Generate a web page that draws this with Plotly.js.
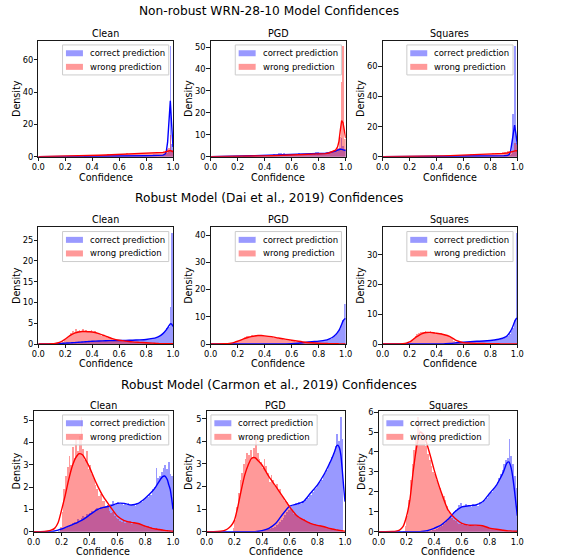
<!DOCTYPE html>
<html><head><meta charset="utf-8">
<script src="https://cdn.plot.ly/plotly-3.0.1.min.js"></script>
<style>html,body{margin:0;padding:0;background:#fff}#chart{width:562px;height:558px}</style>
</head><body><div id="chart"></div>
<script>
// ---------------- DATA ----------------
const rowTitles = ["Non-robust WRN-28-10 Model Confidences", "Robust Model (Dai et al., 2019) Confidences", "Robust Model (Carmon et al., 2019) Confidences"];
const colTitles = ["Clean", "PGD", "Squares"];
const seriesNames = ["correct prediction", "wrong prediction"];
const xAxisLabel = "Confidence";
const yAxisLabel = "Density";
const xTickLabels = ["0.0", "0.2", "0.4", "0.6", "0.8", "1.0"];
const xTickVals = [0, 0.2, 0.4, 0.6, 0.8, 1.0];

// histogram bin centres (bin width 0.0125)
const binCenters = [
 0.10625,0.11875,0.13125,0.14375,0.15625,0.16875,0.18125,0.19375,
 0.20625,0.21875,0.23125,0.24375,0.25625,0.26875,0.28125,0.29375,
 0.30625,0.31875,0.33125,0.34375,0.35625,0.36875,0.38125,0.39375,
 0.40625,0.41875,0.43125,0.44375,0.45625,0.46875,0.48125,0.49375,
 0.50625,0.51875,0.53125,0.54375,0.55625,0.56875,0.58125,0.59375,
 0.60625,0.61875,0.63125,0.64375,0.65625,0.66875,0.68125,0.69375,
 0.70625,0.71875,0.73125,0.74375,0.75625,0.76875,0.78125,0.79375,
 0.80625,0.81875,0.83125,0.84375,0.85625,0.86875,0.88125,0.89375,
 0.90625,0.91875,0.93125,0.94375,0.95625,0.96875,0.98125,0.99375];
const binWidth = 0.0125;

// KDE evaluation grid
const kdeX = [0,0.05,0.1,0.125,0.15,0.175,0.2,0.225,0.25,0.275,0.3,0.325,0.35,0.375,0.4,0.45,0.5,0.55,0.6,0.65,0.7,0.75,0.8,0.85,0.875,0.9,0.925,0.94,0.95,0.96,0.97,0.98,0.99,1.0];

// ---- Non-robust WRN-28-10 ----
const nr_clean_correct = [
 0,0,0.01,0.01,0.02,0.03,0.02,0.03,
 0.04,0.05,0.06,0.05,0.07,0.09,0.08,0.1,
 0.11,0.12,0.1,0.14,0.16,0.15,0.17,0.19,
 0.2,0.22,0.21,0.24,0.25,0.23,0.27,0.3,
 0.28,0.31,0.33,0.3,0.36,0.34,0.37,0.4,
 0.39,0.42,0.4,0.44,0.47,0.43,0.48,0.5,
 0.49,0.53,0.51,0.56,0.55,0.6,0.58,0.62,
 0.66,0.63,0.7,0.74,0.72,0.8,0.86,0.9,
 1.0,1.15,1.3,1.7,2.3,3.6,68.5,8.0];
const nr_clean_wrong = [
 0.02,0.03,0.04,0.05,0.06,0.07,0.08,0.1,
 0.12,0.15,0.2,0.18,0.25,0.3,0.28,0.35,
 0.4,0.35,0.5,0.45,0.6,0.55,0.7,0.65,
 0.8,0.9,0.7,1.1,0.95,1.2,1.0,1.3,
 1.1,1.5,1.2,1.4,1.7,1.3,1.6,1.5,
 1.8,1.4,1.7,1.6,2.0,1.5,1.9,1.8,
 1.7,2.1,1.8,2.3,1.9,2.0,2.4,2.1,
 2.2,2.0,2.5,2.3,2.6,2.2,2.8,2.4,
 2.6,3.0,2.7,3.5,4.5,5.5,13.4,4.0];
const nr_clean_correct_kde = [0,0.01,0.02,0.03,0.04,0.05,0.06,0.07,0.08,0.1,0.12,0.14,0.16,0.18,0.2,0.25,0.3,0.35,0.4,0.45,0.5,0.55,0.62,0.7,0.75,0.8,1.0,1.5,3.0,9.0,22.0,34.6,20.0,6.0];
const nr_clean_wrong_kde = [0.05,0.1,0.15,0.18,0.22,0.26,0.3,0.35,0.4,0.45,0.5,0.56,0.62,0.68,0.75,0.9,1.05,1.2,1.35,1.5,1.65,1.8,2.0,2.2,2.35,2.5,2.7,2.9,3.1,3.4,3.7,3.8,3.5,3.0];

const nr_pgd_correct = [
 0,0,0,0,0.05,0.1,0.15,0.2,
 0.25,0.3,0.2,0.35,0.4,0.3,0.45,0.5,
 0.4,0.6,0.5,0.7,0.55,0.8,0.6,0.75,
 0.8,0.65,0.9,1.0,0.7,1.2,0.85,1.0,
 1.5,1.8,0.9,1.6,1.1,1.3,0.8,1.2,
 1.0,1.4,0.9,1.2,1.5,1.0,1.3,1.1,
 1.2,1.0,1.4,1.1,1.3,1.6,2.2,2.3,
 1.5,1.2,1.8,1.4,1.6,2.0,1.7,2.2,
 2.4,2.6,3.0,3.5,4.0,8.4,5.0,3.5];
const nr_pgd_wrong = [
 0,0,0,0,0,0,0.02,0.03,
 0.05,0.06,0.08,0.1,0.12,0.15,0.18,0.2,
 0.22,0.25,0.3,0.28,0.35,0.3,0.4,0.35,
 0.45,0.4,0.5,0.45,0.55,0.5,0.6,0.55,
 0.6,0.65,0.55,0.7,0.65,0.75,0.6,0.7,
 0.75,0.7,0.8,0.75,0.85,0.8,0.9,0.85,
 0.9,0.85,0.95,0.9,1.0,1.1,1.0,1.2,
 1.1,1.3,1.2,1.4,1.5,1.6,1.8,2.0,
 2.2,2.6,3.0,4.0,9.0,34.0,50.4,8.0];
const nr_pgd_correct_kde = [0,0.02,0.05,0.08,0.12,0.17,0.22,0.27,0.32,0.37,0.42,0.47,0.52,0.57,0.62,0.72,0.82,0.9,0.98,1.05,1.1,1.2,1.35,1.6,1.8,2.1,2.6,3.0,3.3,3.4,3.35,3.2,3.0,2.8];
const nr_pgd_wrong_kde = [0,0.01,0.03,0.05,0.08,0.1,0.12,0.15,0.18,0.2,0.23,0.26,0.3,0.33,0.37,0.45,0.55,0.62,0.7,0.78,0.85,0.95,1.1,1.4,1.7,2.2,3.0,4.5,7.0,12.0,16.5,15.5,12.0,8.5];

const nr_sq_correct = [
 0,0,0,0.01,0.01,0.02,0.02,0.03,
 0.03,0.05,0.04,0.06,0.07,0.06,0.08,0.09,
 0.1,0.09,0.11,0.12,0.11,0.14,0.13,0.15,
 0.16,0.15,0.18,0.17,0.2,0.19,0.22,0.21,
 0.24,0.23,0.25,0.27,0.26,0.29,0.28,0.3,
 0.32,0.31,0.33,0.35,0.34,0.37,0.36,0.38,
 0.4,0.39,0.42,0.41,0.44,0.43,0.46,0.47,
 0.49,0.5,0.53,0.52,0.56,0.58,0.61,0.63,
 0.7,0.8,1.0,1.3,1.8,28.5,73.5,9.0];
const nr_sq_wrong = [
 0,0,0,0,0.01,0.02,0.03,0.04,
 0.05,0.06,0.08,0.1,0.12,0.14,0.16,0.18,
 0.2,0.25,0.22,0.3,0.35,0.3,0.4,0.45,
 0.5,0.55,0.6,0.5,0.7,0.65,0.8,0.75,
 0.9,0.8,1.0,0.95,1.1,1.0,1.2,1.1,
 1.3,1.2,1.4,1.3,1.5,1.4,1.6,1.5,
 1.6,1.5,1.7,1.8,1.6,1.9,1.8,2.0,
 2.0,2.2,2.1,2.4,2.3,2.6,2.5,2.8,
 3.0,3.2,3.6,4.0,3.5,3.0,9.0,7.7];
const nr_sq_correct_kde = [0,0.01,0.02,0.02,0.03,0.04,0.05,0.06,0.07,0.08,0.1,0.11,0.12,0.14,0.15,0.18,0.22,0.25,0.3,0.33,0.37,0.4,0.45,0.5,0.55,0.6,0.8,1.5,3.5,10.0,18.0,21.0,15.0,8.0];
const nr_sq_wrong_kde = [0,0.01,0.02,0.03,0.05,0.07,0.09,0.11,0.13,0.16,0.2,0.25,0.3,0.35,0.42,0.55,0.7,0.85,1.0,1.15,1.3,1.45,1.6,1.85,2.0,2.2,2.5,2.8,3.0,3.3,3.6,4.0,4.0,3.8];

// ---- Robust (Dai et al., 2019) ----
const dai_clean_correct = [
 0.02,0.03,0.05,0.06,0.08,0.1,0.12,0.15,
 0.2,0.22,0.25,0.3,0.32,0.35,0.4,0.42,
 0.45,0.5,0.5,0.55,0.6,0.6,0.62,0.65,
 0.7,0.68,0.72,0.75,0.7,0.78,0.8,0.75,
 0.8,0.78,0.82,0.8,0.85,0.8,0.82,0.85,
 0.85,0.82,0.88,0.85,0.9,0.88,0.92,0.9,
 0.95,0.92,0.98,1.0,0.95,1.05,1.1,1.05,
 1.15,1.2,1.25,1.35,1.4,1.55,1.7,1.9,
 2.1,2.5,2.9,3.3,3.8,4.2,9.0,26.8];
const dai_clean_wrong = [
 0.05,0.08,0.1,0.15,0.2,0.35,0.6,0.9,
 1.3,1.7,2.2,2.6,3.1,2.8,3.6,3.2,
 3.4,3.1,3.5,3.0,3.3,2.9,3.2,3.4,
 2.9,3.1,2.6,2.5,2.4,2.0,2.2,1.8,
 1.6,1.5,1.4,1.2,1.1,1.0,0.95,0.85,
 0.8,0.75,0.7,0.7,0.6,0.55,0.5,0.5,
 0.45,0.4,0.4,0.35,0.32,0.3,0.28,0.25,
 0.22,0.2,0.18,0.15,0.15,0.12,0.1,0.1,
 0.08,0.08,0.06,0.05,0.05,0.04,0.04,0.1];
const dai_clean_correct_kde = [0,0.02,0.05,0.08,0.1,0.15,0.2,0.25,0.3,0.35,0.42,0.48,0.55,0.6,0.65,0.72,0.78,0.82,0.85,0.88,0.92,1.0,1.1,1.35,1.55,1.9,2.5,3.0,3.4,3.9,4.4,4.85,4.8,4.2];
const dai_clean_wrong_kde = [0,0.02,0.08,0.15,0.3,0.65,1.2,1.8,2.3,2.7,2.9,3.0,3.0,2.95,2.9,2.5,1.9,1.3,0.9,0.7,0.5,0.4,0.3,0.2,0.15,0.1,0.08,0.07,0.06,0.06,0.05,0.05,0.05,0.05];

const dai_pgd_correct = [
 0,0,0,0,0,0,0,0,
 0,0,0,0,0,0,0,0,
 0,0,0,0,0,0,0,0,
 0,0,0,0,0,0,0,0,
 0,0,0,0,0.02,0.03,0.05,0.08,
 0.1,0.15,0.2,0.25,0.3,0.4,0.5,0.55,
 0.6,0.65,0.7,0.75,0.8,0.85,0.9,0.95,
 1.0,1.05,1.1,1.2,1.3,1.5,1.7,2.0,
 2.4,2.9,3.6,4.5,5.5,7.0,9.0,14.8];
const dai_pgd_wrong = [
 0.05,0.08,0.1,0.15,0.25,0.4,0.6,0.9,
 1.2,1.5,1.9,2.2,2.5,2.8,3.0,3.1,
 3.3,3.1,3.4,3.2,3.0,3.3,3.1,2.9,
 3.0,2.8,2.7,2.6,2.5,2.3,2.2,2.1,
 2.0,1.9,1.8,1.6,1.5,1.4,1.3,1.2,
 1.1,1.0,0.9,0.85,0.75,0.7,0.6,0.55,
 0.5,0.45,0.42,0.38,0.35,0.3,0.28,0.25,
 0.22,0.2,0.18,0.15,0.14,0.12,0.1,0.1,
 0.08,0.07,0.06,0.05,0.05,0.05,0.04,0.04];
const dai_pgd_correct_kde = [0,0,0,0,0,0,0,0,0,0,0,0,0,0,0,0,0.02,0.05,0.1,0.3,0.6,0.85,1.05,1.4,1.8,2.4,3.4,4.3,5.0,6.0,7.2,8.4,9.1,9.3];
const dai_pgd_wrong_kde = [0,0.02,0.08,0.15,0.3,0.6,1.0,1.5,2.0,2.4,2.7,2.95,3.1,3.1,3.0,2.7,2.2,1.8,1.4,1.0,0.65,0.45,0.3,0.2,0.15,0.1,0.08,0.07,0.06,0.05,0.05,0.05,0.04,0.04];

const dai_sq_correct = [
 0,0,0,0,0,0,0,0,
 0,0,0,0,0,0,0,0,
 0,0,0,0,0,0,0,0,
 0,0,0,0,0,0,0,0,
 0.1,0.15,0.2,0.3,0.4,0.5,0.55,0.6,
 0.6,0.65,0.65,0.7,0.7,0.75,0.75,0.8,
 0.8,0.85,0.9,0.9,0.95,1.0,1.0,1.05,
 1.1,1.15,1.2,1.3,1.35,1.45,1.6,1.8,
 2.0,2.3,2.8,3.5,4.3,5.5,8.0,37.4];
const dai_sq_wrong = [
 0,0,0,0,0.05,0.1,0.2,0.4,
 0.8,1.4,2.1,2.8,3.3,3.6,4.0,4.2,
 4.1,4.3,3.9,4.2,4.3,3.8,4.0,3.6,
 3.5,3.2,3.6,3.0,3.4,2.9,3.1,2.7,
 2.3,1.6,1.0,0.6,0.45,0.4,0.35,0.35,
 0.3,0.3,0.28,0.25,0.25,0.22,0.2,0.2,
 0.18,0.15,0.15,0.12,0.1,0.1,0.08,0.08,
 0.06,0.05,0.05,0.04,0.04,0.03,0.03,0.02,
 0.02,0.02,0.02,0.01,0.01,0.01,0.01,0.01];
const dai_sq_correct_kde = [0,0,0,0,0,0,0,0,0,0,0,0,0,0,0,0.05,0.15,0.4,0.6,0.75,0.9,1.0,1.2,1.5,1.75,2.1,2.8,3.6,4.3,5.2,6.3,7.5,8.4,8.7];
const dai_sq_wrong_kde = [0,0,0.02,0.05,0.12,0.3,0.7,1.5,2.4,3.1,3.6,3.85,3.9,3.8,3.6,3.2,2.5,1.1,0.45,0.3,0.22,0.15,0.1,0.07,0.05,0.04,0.03,0.03,0.02,0.02,0.02,0.02,0.02,0.02];

// ---- Robust (Carmon et al., 2019) ----
const car_clean_correct = [
 0,0,0,0,0,0,0.05,0.08,
 0.1,0.15,0.18,0.22,0.28,0.3,0.38,0.42,
 0.45,0.55,0.5,0.62,0.7,0.68,0.78,0.8,
 0.85,0.92,0.88,1.0,1.05,0.98,1.1,1.12,
 1.08,1.15,1.2,1.1,1.25,1.4,1.2,1.3,
 1.35,1.25,1.3,1.22,1.28,1.2,1.3,1.18,
 1.2,1.25,1.15,1.3,1.28,1.35,1.32,1.45,
 1.5,1.55,1.7,1.65,1.9,2.0,2.85,2.4,
 2.5,2.7,2.85,3.0,2.8,3.15,2.6,2.5];
const car_clean_wrong = [
 0,0,0,0,0,0,0,0.2,
 0.9,1.9,2.5,2.9,3.4,3.0,3.8,3.3,
 4.1,3.6,4.3,5.15,3.7,3.2,3.6,2.8,
 3.0,2.6,2.4,2.1,1.9,1.6,1.7,1.4,
 1.4,1.1,1.2,0.95,0.85,0.9,0.7,0.6,
 0.55,0.5,0.45,0.5,0.4,0.45,0.42,0.5,
 0.35,0.45,0.4,0.35,0.38,0.3,0.28,0.3,
 0.22,0.25,0.18,0.2,0.15,0.12,0.15,0.1,
 0.08,0.1,0.06,0.05,0.08,0.04,0.05,0.03];
const car_clean_correct_kde = [0,0,0,0.01,0.03,0.07,0.12,0.18,0.25,0.31,0.37,0.45,0.53,0.63,0.75,0.97,1.09,1.15,1.27,1.27,1.2,1.27,1.5,1.8,2.0,2.25,2.47,2.5,2.44,2.32,2.1,1.9,1.5,1.0];
const car_clean_wrong_kde = [0,0,0.03,0.07,0.15,0.4,0.97,1.6,2.3,2.9,3.3,3.5,3.45,3.2,2.9,2.17,1.57,1.12,0.7,0.5,0.42,0.37,0.25,0.15,0.12,0.1,0.07,0.06,0.05,0.04,0.035,0.03,0.025,0.02];

const car_pgd_correct = [
 0,0,0,0,0,0,0,0,
 0,0,0,0,0,0,0,0,
 0,0,0,0,0,0.02,0.03,0.04,
 0.05,0.06,0.08,0.1,0.12,0.15,0.18,0.22,
 0.28,0.35,0.42,0.5,0.62,0.75,0.85,0.95,
 1.1,1.15,1.2,1.25,1.2,1.3,1.22,1.35,
 1.3,1.4,1.5,1.6,1.62,1.75,1.9,1.95,
 2.1,2.2,2.3,2.5,2.6,2.75,2.9,3.1,
 3.3,3.5,3.8,4.3,4.0,5.05,4.1,0];
const car_pgd_wrong = [
 0,0,0,0,0,0,0,0.15,
 0.5,1.1,1.7,2.3,2.6,3.0,3.2,3.5,
 3.4,3.6,3.3,3.7,4.2,3.5,3.2,3.1,
 2.8,3.2,2.9,2.6,2.2,2.5,2.3,2.0,
 2.1,1.8,1.9,1.6,1.5,1.35,1.3,1.1,
 1.0,0.95,0.8,0.75,0.7,0.62,0.6,0.5,
 0.55,0.48,0.45,0.42,0.38,0.35,0.35,0.3,
 0.3,0.28,0.25,0.22,0.2,0.2,0.15,0.14,
 0.12,0.1,0.1,0.08,0.06,0.05,0.04,0.03];
const car_pgd_correct_kde = [0,0,0,0,0,0,0,0,0,0,0,0,0,0.02,0.05,0.15,0.37,0.78,1.13,1.22,1.33,1.7,2.06,2.55,2.85,3.17,3.55,3.8,3.82,3.7,3.4,2.75,2.0,1.33];
const car_pgd_wrong_kde = [0,0,0.02,0.05,0.12,0.25,0.5,1.1,1.84,2.5,2.95,3.25,3.27,3.12,2.95,2.43,2.0,1.55,1.1,0.72,0.52,0.37,0.28,0.22,0.17,0.13,0.1,0.08,0.07,0.06,0.05,0.04,0.03,0.02];

const car_sq_correct = [
 0,0,0,0,0,0,0,0,
 0,0,0,0,0,0,0,0,
 0,0,0,0,0.02,0.04,0.05,0.08,
 0.1,0.15,0.2,0.25,0.3,0.38,0.45,0.55,
 0.65,0.75,0.9,1.0,1.1,1.2,1.35,1.45,
 1.3,1.25,1.4,1.3,1.35,1.25,1.4,1.35,
 1.4,1.3,1.5,1.45,1.55,1.6,1.7,1.85,
 1.95,2.0,2.2,2.3,2.5,2.7,2.9,3.1,
 3.4,3.6,3.7,4.65,3.8,3.4,2.8,2.2];
const car_sq_wrong = [
 0,0,0,0,0,0,0.05,0.3,
 0.8,1.6,2.6,3.4,4.1,4.6,5.75,5.1,
 4.8,4.6,4.9,4.3,3.9,3.6,3.3,3.0,
 2.9,2.6,2.4,2.2,1.9,1.8,1.6,1.3,
 1.0,0.85,0.7,0.6,0.55,0.45,0.4,0.38,
 0.35,0.38,0.32,0.3,0.35,0.3,0.33,0.28,
 0.3,0.35,0.3,0.32,0.25,0.28,0.22,0.2,
 0.18,0.15,0.15,0.12,0.12,0.1,0.1,0.08,
 0.06,0.05,0.05,0.04,0.03,0.03,0.02,0.02];
const car_sq_correct_kde = [0,0,0,0,0,0,0,0,0,0,0,0.02,0.05,0.1,0.17,0.33,0.62,1.0,1.25,1.3,1.34,1.5,1.92,2.34,2.65,3.0,3.45,3.5,3.34,3.05,2.6,2.05,1.42,0.8];
const car_sq_wrong_kde = [0,0,0.01,0.03,0.08,0.25,0.75,1.6,3.1,4.3,5.0,4.85,4.35,3.75,3.1,2.0,1.09,0.67,0.42,0.33,0.33,0.3,0.18,0.12,0.1,0.07,0.05,0.04,0.04,0.03,0.03,0.02,0.02,0.02];

// ---------------- LAYOUT CONFIG ----------------
const panels = [
 [nr_clean_correct, nr_clean_wrong, nr_clean_correct_kde, nr_clean_wrong_kde],
 [nr_pgd_correct, nr_pgd_wrong, nr_pgd_correct_kde, nr_pgd_wrong_kde],
 [nr_sq_correct, nr_sq_wrong, nr_sq_correct_kde, nr_sq_wrong_kde],
 [dai_clean_correct, dai_clean_wrong, dai_clean_correct_kde, dai_clean_wrong_kde],
 [dai_pgd_correct, dai_pgd_wrong, dai_pgd_correct_kde, dai_pgd_wrong_kde],
 [dai_sq_correct, dai_sq_wrong, dai_sq_correct_kde, dai_sq_wrong_kde],
 [car_clean_correct, car_clean_wrong, car_clean_correct_kde, car_clean_wrong_kde],
 [car_pgd_correct, car_pgd_wrong, car_pgd_correct_kde, car_pgd_wrong_kde],
 [car_sq_correct, car_sq_wrong, car_sq_correct_kde, car_sq_wrong_kde]
];
const W = 562, H = 558;
const rowPx = [[40.7,156.7],[227.3,344.0],[410.7,531.7]];
const colPx = [
 [[38.3,173.0],[210.7,345.7],[382.7,517.3]],
 [[38.3,173.0],[210.7,345.7],[382.7,517.3]],
 [[33.7,173.0],[206.7,345.0],[378.7,517.3]]
];
const yRange = [71.9,52.9,77.1, 28.1,42.9,39.2, 5.43,5.35,6.07];
const yDtick = [20,10,20, 5,10,10, 1,1,1];
const legendLeft = [false,false,false, false,false,false, false,true,true];
const mainTitleY = [11.3, 198.3, 385.0];
const subTitleShift = [7.7, 7.3, 5.0];
const yTitleOffset = [22,22.5,22.5, 22,22.5,22.5, 17.5,18,18];
const xTitleOffset = [20.3, 19.8, 19.3];

const BLUE = '#0000ff', RED = '#ff0000';
const BLUE_A = 'rgba(0,0,255,0.4)', RED_A = 'rgba(255,0,0,0.4)';
const FONT = 'DejaVu Sans, sans-serif';

const traces = [];
const layout = {
  width: W, height: H,
  margin: {l:0, r:0, t:0, b:0},
  paper_bgcolor: '#ffffff', plot_bgcolor: '#ffffff',
  font: {family: FONT, color: '#000000'},
  barmode: 'overlay', bargap: 0,
  showlegend: false,
  shapes: [], annotations: []
};

panels.forEach((p, i) => {
  const k = i + 1;
  const r = Math.floor(i / 3), c = i % 3;
  const xs = k === 1 ? 'x' : 'x' + k, ys = k === 1 ? 'y' : 'y' + k;
  const xa = k === 1 ? 'xaxis' : 'xaxis' + k, ya = k === 1 ? 'yaxis' : 'yaxis' + k;
  const lineShape = r === 0 ? 'linear' : 'spline';
  traces.push({type:'bar', x: binCenters, y: p[0], width: binWidth, xaxis: xs, yaxis: ys,
    marker:{color: BLUE_A, line:{width:0}}, hoverinfo:'skip', name: seriesNames[0]});
  traces.push({type:'bar', x: binCenters, y: p[1], width: binWidth, xaxis: xs, yaxis: ys,
    marker:{color: RED_A, line:{width:0}}, hoverinfo:'skip', name: seriesNames[1]});
  traces.push({type:'scatter', mode:'lines', x: kdeX, y: p[2], xaxis: xs, yaxis: ys,
    line:{color: BLUE, width: 1.4, shape: lineShape, smoothing: 0.6}, hoverinfo:'skip'});
  traces.push({type:'scatter', mode:'lines', x: kdeX, y: p[3], xaxis: xs, yaxis: ys,
    line:{color: RED, width: 1.4, shape: lineShape, smoothing: 0.6}, hoverinfo:'skip'});

  const [x0p, x1p] = colPx[r][c];
  const [y0p, y1p] = rowPx[r];
  const common = {showline:true, linecolor:'#000', linewidth:0.9, mirror:true,
    ticks:'outside', ticklen:3.5, tickwidth:0.9, tickcolor:'#000',
    showgrid:false, zeroline:false, automargin:false, fixedrange:true,
    ticklabelstandoff: -1,
    tickfont:{family: FONT, size: 8.3, color:'#000'}};
  layout[xa] = Object.assign({}, common, {
    domain:[x0p/W, x1p/W], anchor: ys, range:[0,1],
    tickvals: xTickVals, ticktext: xTickLabels
  });
  layout[ya] = Object.assign({}, common, {
    domain:[1 - y1p/H, 1 - y0p/H], anchor: xs, range:[0, yRange[i]],
    tick0: 0, dtick: yDtick[i]
  });

  const xdom = xs + ' domain', ydom = ys + ' domain';
  // axis titles
  layout.annotations.push({text: xAxisLabel, xref: xdom, yref: ydom, x: 0.5, y: 0,
    xanchor:'center', yanchor:'middle', yshift: -xTitleOffset[r], showarrow:false, borderpad: 0,
    font:{family: FONT, size: 9.6, color:'#000'}});
  layout.annotations.push({text: yAxisLabel, xref: xdom, yref: ydom, x: 0, y: 0.5,
    xanchor:'center', yanchor:'middle', xshift: -yTitleOffset[i], textangle: -90, showarrow:false, borderpad: 0,
    font:{family: FONT, size: 9.6, color:'#000'}});
  // subplot title
  layout.annotations.push({text: colTitles[c], xref: xdom, yref: ydom,
    x: 0.5, y: 1, xanchor:'center', yanchor:'middle', yshift: subTitleShift[r], showarrow:false, borderpad: 0,
    font:{family: FONT, size: 9.6, color:'#000'}});

  // legend (matplotlib-style box)
  const left = legendLeft[i];
  const ax = left ? 0 : 1;
  const boxW = 106.2;
  const bl = left ? 4.25 : -4.25 - boxW;
  layout.shapes.push({type:'rect', xref: xdom, yref: ydom, xsizemode:'pixel', ysizemode:'pixel',
    xanchor: ax, yanchor: 1, x0: bl, x1: bl + boxW, y0: -4.25, y1: -34.25,
    fillcolor:'rgba(255,255,255,0.8)', line:{color:'#cccccc', width:1}, layer:'above'});
  const rowsY = [-12.55, -26.15];
  [BLUE_A, RED_A].forEach((col, j) => {
    layout.shapes.push({type:'rect', xref: xdom, yref: ydom, xsizemode:'pixel', ysizemode:'pixel',
      xanchor: ax, yanchor: 1, x0: bl + 3.4, x1: bl + 20.4, y0: rowsY[j] - 3, y1: rowsY[j] + 3,
      fillcolor: col, line:{width:0}, layer:'above'});
    layout.annotations.push({text: seriesNames[j], xref: xdom, yref: ydom, x: ax, y: 1,
      xanchor:'left', yanchor:'middle', xshift: bl + 26.5, yshift: rowsY[j], borderpad: 0,
      showarrow:false, font:{family: FONT, size: 8.5, color:'#000'}});
  });
});

rowTitles.forEach((t, r) => {
  layout.annotations.push({text: t, xref:'paper', yref:'paper', x: 268.8/W, y: 1 - mainTitleY[r]/H,
    xanchor:'center', yanchor:'middle', showarrow:false, borderpad: 0, font:{family: FONT, size: 12.2, color:'#000'}});
});

Plotly.newPlot('chart', traces, layout, {staticPlot:true, displayModeBar:false});
</script>
</body></html>
